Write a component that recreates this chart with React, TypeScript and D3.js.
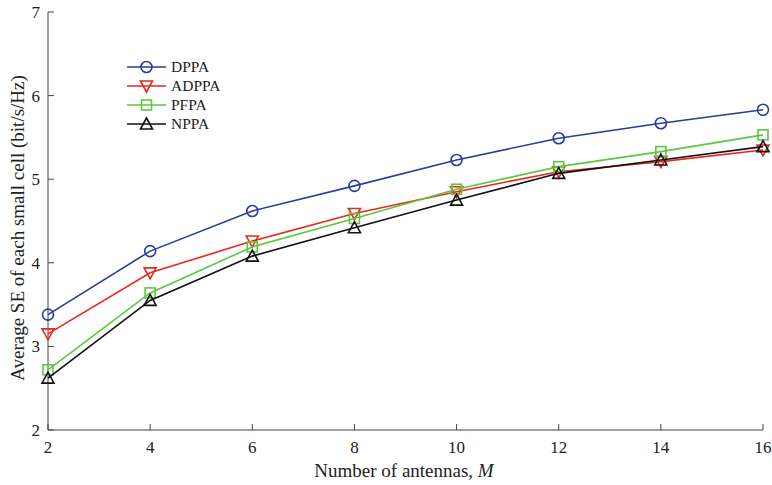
import React from 'react'
import * as d3 from 'd3'

const antennas = [2, 4, 6, 8, 10, 12, 14, 16]
const dppa = [3.38, 4.14, 4.62, 4.92, 5.23, 5.49, 5.67, 5.83]
const adppa = [3.15, 3.88, 4.26, 4.59, 4.85, 5.09, 5.21, 5.35]
const pfpa = [2.72, 3.64, 4.19, 4.53, 4.88, 5.15, 5.33, 5.53]
const nppa = [2.62, 3.55, 4.08, 4.42, 4.75, 5.07, 5.23, 5.39]
const xTicks = [2, 4, 6, 8, 10, 12, 14, 16]
const yTicks = [2, 3, 4, 5, 6, 7]

const series = [
  { name: 'DPPA', values: dppa, color: '#2b3c9c', marker: 'circle' },
  { name: 'ADPPA', values: adppa, color: '#e5291d', marker: 'down' },
  { name: 'PFPA', values: pfpa, color: '#5cc73f', marker: 'square' },
  { name: 'NPPA', values: nppa, color: '#111111', marker: 'up' },
]

const Marker = ({ type, x, y, color }: { type: string; x: number; y: number; color: string }) => {
  const s = 6
  if (type === 'circle') return <circle cx={x} cy={y} r={5.5} fill="none" stroke={color} strokeWidth={1.6} />
  if (type === 'square') return <rect x={x - 5} y={y - 5} width={10} height={10} fill="none" stroke={color} strokeWidth={1.6} />
  if (type === 'down')
    return <path d={`M${x - s},${y - s + 1}L${x + s},${y - s + 1}L${x},${y + s}Z`} fill="none" stroke={color} strokeWidth={1.6} />
  return <path d={`M${x - s},${y + s - 1}L${x + s},${y + s - 1}L${x},${y - s}Z`} fill="none" stroke={color} strokeWidth={1.6} />
}

const App = () => {
  const width = 772
  const height = 485
  const left = 48
  const right = 763
  const top = 12
  const bottom = 430

  const x = d3.scaleLinear().domain([2, 16]).range([left, right])
  const y = d3.scaleLinear().domain([2, 7]).range([bottom, top])
  const line = d3.line<number>().x((_, i) => x(antennas[i])).y((d) => y(d))

  const axisColor = '#444'
  const font = '"Liberation Serif", "Times New Roman", serif'

  return (
    <svg width={width} height={height} style={{ position: 'absolute', left: 0, top: 0 }} fontFamily={font}>
      <rect width={width} height={height} fill="#fff" />
      {/* axes */}
      <line x1={left} x2={left} y1={top} y2={bottom} stroke={axisColor} strokeWidth={1} />
      <line x1={left} x2={right} y1={bottom} y2={bottom} stroke={axisColor} strokeWidth={1} />
      {yTicks.map((t) => (
        <g key={'y' + t}>
          <line x1={left} x2={left + 6} y1={y(t)} y2={y(t)} stroke={axisColor} />
          <text x={left - 8} y={y(t)} dy="0.35em" textAnchor="end" fontSize={17} fill="#222">
            {t}
          </text>
        </g>
      ))}
      {xTicks.map((t) => (
        <g key={'x' + t}>
          <line x1={x(t)} x2={x(t)} y1={bottom} y2={bottom - 6} stroke={axisColor} />
          <text x={x(t)} y={bottom + 23} textAnchor="middle" fontSize={17} fill="#222">
            {t}
          </text>
        </g>
      ))}
      <text x={404} y={477} textAnchor="middle" fontSize={19} fill="#222">
        Number of antennas, <tspan fontStyle="italic">M</tspan>
      </text>
      <text
        transform={`translate(24,228) rotate(-90)`}
        textAnchor="middle"
        fontSize={19}
        fill="#222"
      >
        Average SE of each small cell (bit/s/Hz)
      </text>
      {/* series */}
      {series.map((s) => (
        <g key={s.name}>
          <path d={line(s.values) || ''} fill="none" stroke={s.color} strokeWidth={1.6} />
          {s.values.map((v, i) => (
            <Marker key={i} type={s.marker} x={x(antennas[i])} y={y(v)} color={s.color} />
          ))}
        </g>
      ))}
      {/* legend */}
      {series.map((s, i) => {
        const ly = 67 + i * 19
        return (
          <g key={'l' + s.name}>
            <line x1={127} x2={166} y1={ly} y2={ly} stroke={s.color} strokeWidth={1.6} />
            <Marker type={s.marker} x={146.5} y={ly} color={s.color} />
            <text x={171} y={ly} dy="0.35em" fontSize={15.5} fill="#222">
              {s.name}
            </text>
          </g>
        )
      })}
    </svg>
  )
}

export default App
